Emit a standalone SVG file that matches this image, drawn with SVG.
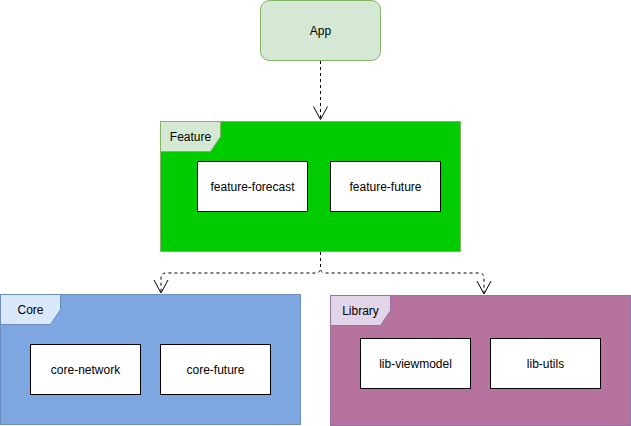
<svg xmlns="http://www.w3.org/2000/svg" width="631" height="426" viewBox="0 0 631 426">
<style>
text{font-family:"Liberation Sans",Arial,Helvetica,sans-serif;font-size:12px;fill:#000;text-anchor:middle;dominant-baseline:central}
.mod{fill:#fff;stroke:#000;stroke-width:1}
.edge{fill:none;stroke:#000;stroke-width:1;stroke-dasharray:3 3}
</style>
<defs>
<marker id="open" markerUnits="userSpaceOnUse" markerWidth="20" markerHeight="20" refX="0" refY="0" orient="auto" overflow="visible">
<path d="M-13,-7 L0,0 L-13,7" fill="none" stroke="#000" stroke-width="1"/>
</marker>
</defs>
<g id="app">
<rect x="260.5" y="0.5" width="120" height="60" rx="9" ry="9" fill="#d5e8d4" stroke="#82b366"/>
<text x="320.5" y="30.5">App</text>
</g>
<g id="feature">
<rect x="160.5" y="121.5" width="300" height="130" fill="#00cc00" stroke="#82b366"/>
<path d="M160.5,121.5 H220.5 V136.5 L210.5,151.5 H160.5 Z" fill="#d5e8d4" stroke="#82b366"/>
<text x="190.5" y="136.5">Feature</text>
</g>
<g id="feature-forecast">
<rect class="mod" x="197.5" y="161.5" width="110" height="50"/>
<text x="252.5" y="186.5">feature-forecast</text>
</g>
<g id="feature-future">
<rect class="mod" x="330.5" y="161.5" width="110" height="50"/>
<text x="385.5" y="186.5">feature-future</text>
</g>
<g id="core">
<rect x="0.5" y="294.5" width="300" height="130" fill="#7ea6e0" stroke="#6c8ebf"/>
<path d="M0.5,294.5 H60.5 V309.5 L50.5,324.5 H0.5 Z" fill="#dae8fc" stroke="#6c8ebf"/>
<text x="30.5" y="309.5">Core</text>
</g>
<g id="core-network">
<rect class="mod" x="30.5" y="344.5" width="110" height="50"/>
<text x="85.5" y="369.5">core-network</text>
</g>
<g id="core-future">
<rect class="mod" x="160.5" y="344.5" width="110" height="50"/>
<text x="215.5" y="369.5">core-future</text>
</g>
<g id="library">
<rect x="330.5" y="295.5" width="300" height="130" fill="#b5739d" stroke="#9673a6"/>
<path d="M330.5,295.5 H390.5 V310.5 L380.5,325.5 H330.5 Z" fill="#e1d5e7" stroke="#9673a6"/>
<text x="360.5" y="310.5">Library</text>
</g>
<g id="lib-viewmodel">
<rect class="mod" x="360.5" y="338.5" width="110" height="50"/>
<text x="415.5" y="363.5">lib-viewmodel</text>
</g>
<g id="lib-utils">
<rect class="mod" x="490.5" y="338.5" width="110" height="50"/>
<text x="545.5" y="363.5">lib-utils</text>
</g>
<g id="connectors">
<path class="edge" d="M320.5,61 V119.5" marker-end="url(#open)"/>
<path class="edge" d="M320.5,252 V268 Q320.5,273 315.5,273 H166 Q161,273 161,278 V293" marker-end="url(#open)"/>
<path class="edge" d="M320.5,252 V268 Q320.5,273 325.5,273 H479 Q484,273 484,278 V294" marker-end="url(#open)"/>
</g>
</svg>
